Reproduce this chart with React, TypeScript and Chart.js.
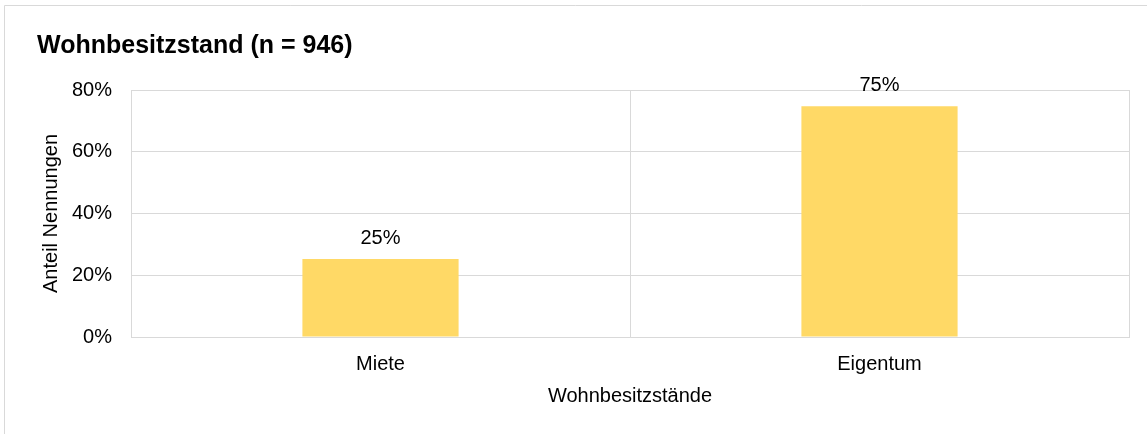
import React, { useEffect, useRef } from "react";
import { Chart, registerables } from "chart.js";

Chart.register(...registerables);

const categories = ["Miete", "Eigentum"];
const shares = [25.3, 74.7];
const yTicks = [0, 20, 40, 60, 80];
const chartTitle = "Wohnbesitzstand (n = 946)";
const yAxisTitle = "Anteil Nennungen";
const xAxisTitle = "Wohnbesitzstände";

const FONT = "'Liberation Sans', Arial, Helvetica, sans-serif";
const GRID = "#d9d9d9";
const FS = 20;

const decorPlugin = {
  id: "decor",
  beforeDraw(chart: any) {
    const ctx = chart.ctx;
    ctx.save();
    ctx.strokeStyle = GRID;
    ctx.lineWidth = 1;
    ctx.beginPath();
    ctx.moveTo(4.5, chart.height);
    ctx.lineTo(4.5, 5.5);
    ctx.lineTo(chart.width, 5.5);
    ctx.stroke();
    ctx.restore();
  },
  afterDraw(chart: any) {
    const ctx = chart.ctx;
    ctx.save();
    ctx.fillStyle = "#000";
    ctx.font = `bold 25px ${FONT}`;
    ctx.textAlign = "left";
    ctx.textBaseline = "alphabetic";
    ctx.fillText(chartTitle, 37, 53);

    ctx.font = `${FS}px ${FONT}`;
    ctx.textAlign = "center";
    const meta = chart.getDatasetMeta(0);
    meta.data.forEach((bar: any, i: number) => {
      const v = chart.data.datasets[0].data[i] as number;
      ctx.fillText(`${Math.round(v)}%`, bar.x, bar.y - 15);
    });
    ctx.restore();
  },
};

export default function App() {
  const ref = useRef<HTMLCanvasElement | null>(null);

  useEffect(() => {
    if (!ref.current) return;
    const chart = new Chart(ref.current, {
      type: "bar",
      data: {
        labels: categories,
        datasets: [
          {
            data: shares,
            backgroundColor: "#FFD966",
            borderWidth: 0,
            barPercentage: 0.313,
            categoryPercentage: 1,
          },
        ],
      },
      options: {
        animation: false,
        responsive: false,
        maintainAspectRatio: false,
        devicePixelRatio: 1,
        layout: { padding: { top: 90, right: 18, bottom: 22, left: 35 } },
        plugins: {
          legend: { display: false },
          tooltip: { enabled: false },
          title: { display: false },
        },
        scales: {
          x: {
            grid: { color: GRID, drawTicks: false, offset: true },
            border: { color: GRID },
            ticks: { color: "#000", font: { family: FONT, size: FS }, padding: 15 },
            title: {
              display: true,
              text: xAxisTitle,
              color: "#000",
              font: { family: FONT, size: FS },
              padding: { top: 4, bottom: 4 },
            },
            afterFit(scale: any) {
              scale.height = 75;
            },
          },
          y: {
            min: 0,
            max: 80,
            afterBuildTicks(scale: any) {
              scale.ticks = yTicks.map((v) => ({ value: v }));
            },
            grid: { color: GRID, drawTicks: false },
            border: { color: GRID },
            ticks: {
              color: "#000",
              font: { family: FONT, size: FS },
              padding: 19,
              callback: (v: any) => `${v}%`,
            },
            title: {
              display: true,
              text: yAxisTitle,
              color: "#000",
              font: { family: FONT, size: FS },
              padding: { top: 4, bottom: 4 },
            },
            afterFit(scale: any) {
              scale.width = 96;
            },
          },
        },
      },
      plugins: [decorPlugin],
    });
    return () => chart.destroy();
  }, []);

  return (
    <div style={{ position: "absolute", left: 0, top: 0, width: 1147, height: 434, background: "#fff" }}>
      <canvas ref={ref} width={1147} height={434} style={{ width: 1147, height: 434, display: "block" }} />
    </div>
  );
}
